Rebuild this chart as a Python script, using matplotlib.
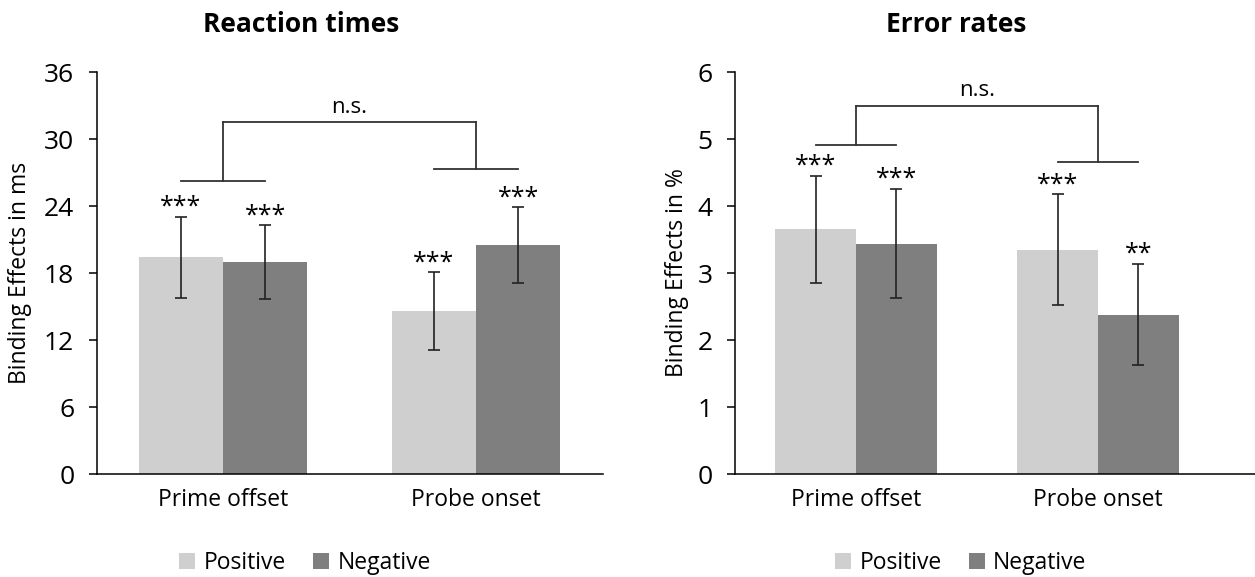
import numpy as np
import matplotlib.pyplot as plt

plt.rcParams['font.family'] = ['Open Sans', 'DejaVu Sans']

# data
categories = ["Prime offset", "Probe onset"]
series = ["Positive", "Negative"]

rt_pos = [19.4, 14.6]
rt_pos_err = [3.65, 3.5]
rt_neg = [19.0, 20.5]
rt_neg_err = [3.3, 3.4]
rt_pos_sig = ["***", "***"]
rt_neg_sig = ["***", "***"]
rt_bracket_low = [26.2, 27.3]
rt_bracket_top = 31.55

er_pos = [3.65, 3.35]
er_pos_err = [0.80, 0.83]
er_neg = [3.44, 2.38]
er_neg_err = [0.82, 0.76]
er_pos_sig = ["***", "***"]
er_neg_sig = ["***", "**"]
er_bracket_low = [4.91, 4.65]
er_bracket_top = 5.50

c_pos = "#cfcfcf"
c_neg = "#7f7f7f"
bw = 1 / 3

fig = plt.figure(figsize=(12.55, 5.77), dpi=100)
ax1 = fig.add_axes([0.0769, 0.1785, 0.4032, 0.6967])
ax2 = fig.add_axes([0.5857, 0.1785, 0.4143, 0.6967])


def panel(ax, pos, pos_err, neg, neg_err, pos_sig, neg_sig, low, top, ymax, step, xmax, ylabel):
    x = np.arange(len(categories))
    ekw = dict(elinewidth=1.2, capthick=1.2, ecolor="#222222")
    ax.bar(x - bw / 2, pos, bw, color=c_pos, label=series[0],
           yerr=pos_err, capsize=4.5, error_kw=ekw)
    ax.bar(x + bw / 2, neg, bw, color=c_neg, label=series[1],
           yerr=neg_err, capsize=4.5, error_kw=ekw)
    for i in range(len(x)):
        ax.annotate(pos_sig[i], (x[i] - bw / 2, pos[i] + pos_err[i]), xytext=(0, 2),
                    textcoords="offset points", ha="center", va="baseline", fontsize=18)
        ax.annotate(neg_sig[i], (x[i] + bw / 2, neg[i] + neg_err[i]), xytext=(0, 2),
                    textcoords="offset points", ha="center", va="baseline", fontsize=18)
        # group bracket
        ax.plot([x[i] - bw / 2, x[i] + bw / 2], [low[i], low[i]], color="#333333", lw=1.3)
        ax.plot([x[i], x[i]], [low[i], top], color="#333333", lw=1.3)
    ax.plot([x[0], x[1]], [top, top], color="#333333", lw=1.3)
    ax.annotate("n.s.", ((x[0] + x[1]) / 2, top), xytext=(0, 3), textcoords="offset points",
                ha="center", va="bottom", fontsize=16)

    ax.set_xlim(-0.5, xmax)
    ax.set_ylim(0, ymax)
    ax.set_yticks(np.arange(0, ymax + step / 2, step))
    ax.set_xticks(x)
    ax.set_xticklabels(categories, fontsize=16.5)
    ax.tick_params(axis="x", length=0, pad=10)
    ax.tick_params(axis="y", labelsize=19, length=6, width=1.1, pad=10)
    for s in ["top", "right"]:
        ax.spines[s].set_visible(False)
    for s in ["left", "bottom"]:
        ax.spines[s].set_linewidth(1.1)
    ax.set_ylabel(ylabel, fontsize=16.5)


panel(ax1, rt_pos, rt_pos_err, rt_neg, rt_neg_err, rt_pos_sig, rt_neg_sig,
      rt_bracket_low, rt_bracket_top, 36, 6, 1.5, "Binding Effects in ms")
panel(ax2, er_pos, er_pos_err, er_neg, er_neg_err, er_pos_sig, er_neg_sig,
      er_bracket_low, er_bracket_top, 6, 1, 1.649, "Binding Effects in %")
ax1.yaxis.set_label_coords(-0.128, 0.5)
ax2.yaxis.set_label_coords(-0.088, 0.5)

fig.text(301 / 1255, 1 - 24 / 577, "Reaction times", ha="center", va="center",
         fontsize=19, fontweight="bold")
fig.text(956 / 1255, 1 - 24 / 577, "Error rates", ha="center", va="center",
         fontsize=19, fontweight="bold")

for ax, cx in [(ax1, 305 / 1255), (ax2, 961 / 1255)]:
    h, l = ax.get_legend_handles_labels()
    fig.legend(h, l, loc="center", bbox_to_anchor=(cx, 1 - 563 / 577), ncol=2,
               frameon=False, fontsize=16.5, handlelength=0.7, handleheight=0.7,
               handletextpad=0.35, columnspacing=1.2)

fig.savefig("out.png", dpi=100)
